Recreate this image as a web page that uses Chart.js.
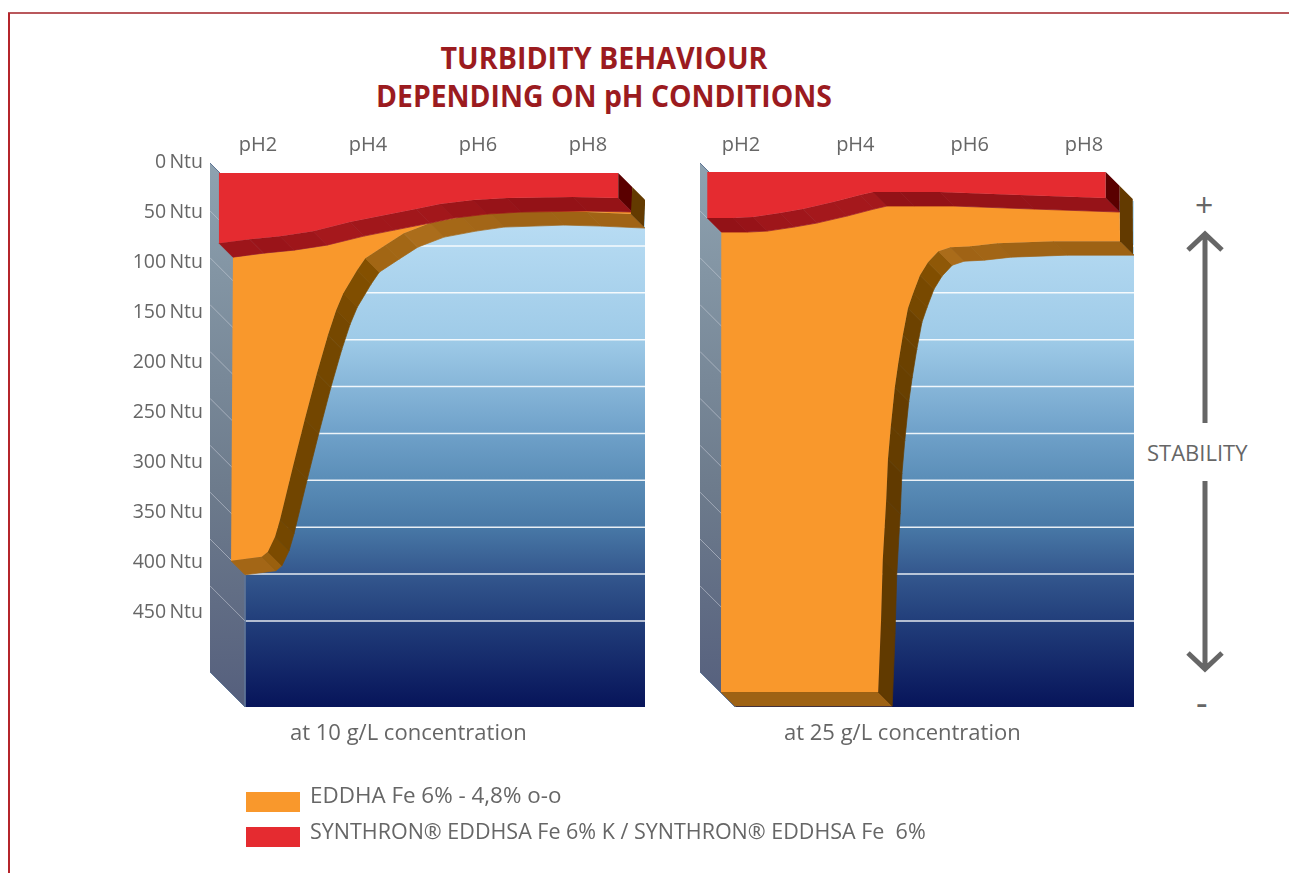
<!DOCTYPE html>
<html><head><meta charset="utf-8">
<script src="https://cdn.jsdelivr.net/npm/chart.js@4/dist/chart.umd.min.js"></script>
<style>
html,body{margin:0;padding:0;background:#fff;width:1289px;height:873px;overflow:hidden;font-family:"Open Sans",sans-serif;color:#666}
canvas{position:absolute;top:0}
.t{position:absolute;white-space:nowrap;line-height:1}
.title{left:0;width:1208px;text-align:center;font-weight:700;color:#9b1b1f;font-size:30px;transform-origin:604px 50%;transform:scaleX(.955)}
.cap{font-size:22px}
.sw{position:absolute;left:246px;width:54px;height:20px}
#f1{position:absolute;left:8px;top:12px;width:1281px;height:2px;background:#b9585c}
#f2{position:absolute;left:8px;top:13px;width:2px;height:860px;background:#b5252b}
</style></head><body>
<div id="f1"></div><div id="f2"></div>
<div class="t title" style="top:43px">TURBIDITY BEHAVIOUR</div>
<div class="t title" style="top:81px;transform:scaleX(.945)">DEPENDING ON pH CONDITIONS</div>
<canvas id="c10" width="660" height="873" style="left:0;width:660px;height:873px"></canvas>
<canvas id="c25" width="480" height="873" style="left:660px;width:480px;height:873px"></canvas>
<div class="t cap" style="left:290px;top:720px;font-size:22px;">at 10 g/L concentration</div>
<div class="t cap" style="left:784px;top:720px;font-size:22px;">at 25 g/L concentration</div>
<div class="sw" style="top:792px;background:#f9982c"></div>
<div class="sw" style="top:827px;background:#e52b30"></div>
<div class="t cap" style="left:310px;top:784px;font-size:22.4px">EDDHA Fe 6% - 4,8% o-o</div>
<div class="t cap" style="left:310px;top:820px;font-size:21.5px">SYNTHRON® EDDHSA Fe 6% K / SYNTHRON® EDDHSA Fe&nbsp; 6%</div>
<div class="t cap" style="left:1147px;top:441px;font-size:22px">STABILITY</div>
<div class="t" style="left:1195px;top:189px;font-size:32px">+</div>
<div class="t" style="left:1196px;top:685px;font-size:36px">-</div>
<svg style="position:absolute;left:1180px;top:225px" width="50" height="450" fill="none" stroke="#666" stroke-width="5">
<path d="M25 10V198M25 256V442M8 25L25 9L42 25M8 428L25 444L42 428"/></svg>
<script>
// Axis tick labels
const phTicks = [2, 4, 6, 8];
const ntuTicks = [0, 50, 100, 150, 200, 250, 300, 350, 400, 450];
const gridNtu = [50, 100, 150, 200, 250, 300, 350, 400, 450];
// 10 g/L : lower edge of the SYNTHRON ribbon
const red10Ph  = [1.29, 1.85, 2.40, 3.00, 3.67, 4.22, 4.87, 5.31, 5.91, 6.53, 7.73, 8.55];
const red10Ntu = [82, 78, 75, 70, 61, 55, 48, 43, 39, 37, 36, 37];
// 10 g/L : lower edge of the EDDHA ribbon
const orange10Ph  = [1.51, 2.07, 2.18, 2.31, 2.40, 2.64, 2.85, 3.07, 3.27, 3.42, 3.55, 3.80, 3.95, 4.31, 4.65, 5.13, 5.71, 6.22, 7.31, 7.98, 8.78];
const orange10Ntu = [399, 395, 390, 375, 358, 304, 258, 212, 174, 149, 132, 109, 97, 84, 72, 62, 56, 52, 50, 51, 53];
// 25 g/L
const red25Ph  = [1.41, 1.86, 2.21, 2.68, 3.08, 3.61, 4.08, 4.31, 4.78, 5.48, 6.88, 8.38];
const red25Ntu = [57, 57, 56, 52, 48, 41, 34, 31, 31, 31, 34, 37];
const orange25Ph  = [1.65, 4.40, 4.45, 4.48, 4.54, 4.57, 4.62, 4.69, 4.75, 4.83, 4.92, 5.01, 5.13, 5.27, 5.45, 5.66, 6.01, 6.48, 7.46, 8.63];
const orange25Ntu = [530, 530, 458, 398, 338, 298, 265, 226, 202, 174, 147, 132, 114, 101, 90, 86, 85, 82, 80, 80];

const FONT = '"Open Sans", sans-serif';
const TEXT = '#666';
const mix = (stops, a) => {
  for (let i = 1; i < stops.length; i++) {
    if (a <= stops[i][0]) {
      const [a0, c0] = stops[i - 1], [a1, c1] = stops[i], t = (a - a0) / (a1 - a0);
      return 'rgb(' + c0.map((v, k) => Math.round(v + (c1[k] - v) * t)).join(',') + ')';
    }
  }
  return 'rgb(' + stops[stops.length - 1][1].join(',') + ')';
};
const brownStops = [[0, [158, 98, 20]], [25, [174, 111, 28]], [55, [132, 80, 0]], [75, [115, 70, 0]], [90, [94, 56, 0]]];
const redStops = [[0, [147, 18, 23]], [14, [165, 24, 28]], [90, [165, 24, 28]]];

function build(id, o) {
  const canvas = document.getElementById(id), c = canvas.getContext('2d');
  const xmin = 2 + (o.left - o.x2) / o.pxPerPh, xmax = 2 + (o.right - o.x2) / o.pxPerPh;
  const TOP = 155, BOTTOM = 707, Y0 = 161, PY = 1.002;
  const ymin = (TOP - Y0) / PY, ymax = (BOTTOM - Y0) / PY;
  const dx = px => px / o.pxPerPh, dy = px => px / PY;
  const depth = (p, px) => ({x: p.x + dx(px), y: p.y + dy(px)});
  const red = o.redPh.map((x, i) => ({x, y: o.redNtu[i]}));
  const orange = o.orangePh.map((x, i) => ({x, y: o.orangeNtu[i]}));
  const RIBBON = 14, BACK = 35;
  const redTop = [{x: red[0].x, y: o.plane}, {x: red[red.length - 1].x, y: o.plane}];
  const ds = [];
  const poly = (data, color, extra) => ds.push(Object.assign({data, backgroundColor: color, fill: 'shape', borderWidth: 0, pointRadius: 0, tension: 0}, extra || {}));
  const facet = (data, color) => poly(data.concat([data[0]]), color, {borderWidth: .7, borderColor: color});
  const lines = (data, color, width, yAxisID) => ds.push({data, borderColor: color, borderWidth: width, fill: false, pointRadius: 0, tension: 0, spanGaps: false, yAxisID: yAxisID || 'y'});
  const angle = (a, b) => Math.atan2(Math.abs(b.y - a.y) * PY, Math.abs(b.x - a.x) * o.pxPerPh) * 180 / Math.PI;

  // back wall
  const g = c.createLinearGradient(0, 222, 0, 707);
  [[0, '#b8dcf3'], [.24, '#9fcbe8'], [.43, '#70a2ca'], [.53, '#5b8eb8'], [.63, '#4878a6'], [.72, '#35598f'], [.82, '#223f7b'], [1, '#07145a']].forEach(s => g.addColorStop(s[0], s[1]));
  const bx = xmin + dx(BACK);
  poly([{x: bx, y: 40}, {x: xmax, y: 40}, {x: xmax, y: ymax}, {x: bx, y: ymax}], g);
  // back grid lines, on the wall's own value scale
  const grid = [];
  gridNtu.forEach(v => grid.push({x: bx, y: v}, {x: xmax, y: v}, {x: NaN, y: NaN}));
  lines(grid, 'rgba(255,255,255,.88)', 1.5, 'yBack');
  // side wall
  const g2 = c.createLinearGradient(0, 163, 0, 707);
  g2.addColorStop(0, '#8ea2b0'); g2.addColorStop(.6, '#6d7b8c'); g2.addColorStop(1, '#555f7d');
  poly([{x: xmin, y: 2}, {x: bx, y: 2 + dy(BACK)}, {x: bx, y: ymax}, {x: xmin, y: ymax - dy(BACK)}], g2, {borderWidth: 1, borderColor: '#5f7596'});
  const side = [];
  gridNtu.forEach(v => side.push({x: xmin, y: v - BACK / .9375}, {x: bx, y: v}, {x: NaN, y: NaN}));
  lines(side, 'rgba(205,210,220,.55)', 1, 'yBack');
  // EDDHA ribbon underside, one facet per segment
  for (let i = 0; i < orange.length - 1; i++) {
    const a = orange[i], b = orange[i + 1];
    facet([a, b, depth(b, RIBBON), depth(a, RIBBON)], mix(brownStops, angle(a, b)));
  }
  // EDDHA face
  const redShift = red.map(p => depth(p, RIBBON));
  poly(redShift.concat(orange.slice().reverse()), '#f9982c');
  // SYNTHRON ribbon underside
  for (let i = 0; i < red.length - 1; i++) {
    const a = red[i], b = red[i + 1];
    facet([a, b, depth(b, RIBBON), depth(a, RIBBON)], mix(redStops, angle(a, b)));
  }
  // SYNTHRON face
  poly(redTop.concat(red.slice().reverse()), '#e52b30');
  // end caps
  const rt = redTop[1], rb = red[red.length - 1], ob = orange[orange.length - 1];
  poly([rt, depth(rt, RIBBON), depth(rb, RIBBON), rb], '#5a0000');
  poly([depth(rt, RIBBON), depth(rt, RIBBON * 2 - 1), depth(ob, RIBBON - 1), ob], '#633a00');

  const fit = (prop, val) => s => { s[prop] = val; };
  return new Chart(c, {
    type: 'line',
    data: {datasets: ds.reverse()},
    options: {
      animation: false, responsive: false, events: [],
      layout: {padding: {top: TOP - 30, bottom: 873 - BOTTOM, left: o.padLeft, right: o.padRight}},
      plugins: {legend: {display: false}, tooltip: {enabled: false}, title: {display: false}},
      scales: {
        x: {type: 'linear', position: 'top', min: xmin, max: xmax, grid: {display: false}, border: {display: false},
          afterBuildTicks: s => { s.ticks = phTicks.map(value => ({value})); },
          afterFit: fit('height', 30),
          ticks: {autoSkip: false, maxRotation: 0, padding: -10, color: TEXT, font: {family: FONT, size: 20}, callback: v => 'pH' + v}},
        y: {type: 'linear', reverse: true, min: ymin, max: ymax, display: o.showY, grid: {display: false}, border: {display: false},
          afterBuildTicks: s => { s.ticks = ntuTicks.map(value => ({value})); },
          afterFit: fit('width', o.yWidth),
          ticks: {autoSkip: false, padding: -1, labelOffset: 1, color: TEXT, font: {family: FONT, size: 19.5}, callback: v => v + '\u2009Ntu'}},
        yBack: {type: 'linear', reverse: true, display: false, min: (TOP - 199) / .9375, max: (BOTTOM - 199) / .9375}
      }
    }
  });
}
build('c10', {left: 210, right: 645, x2: 258, pxPerPh: 55, plane: 12, redPh: red10Ph, redNtu: red10Ntu, orangePh: orange10Ph, orangeNtu: orange10Ntu, padLeft: 0, padRight: 15, yWidth: 210, showY: true});
build('c25', {left: 40, right: 474, x2: 81, pxPerPh: 57.17, plane: 11, redPh: red25Ph, redNtu: red25Ntu, orangePh: orange25Ph, orangeNtu: orange25Ntu, padLeft: 40, padRight: 6, yWidth: 0, showY: false});
</script>
</body></html>
